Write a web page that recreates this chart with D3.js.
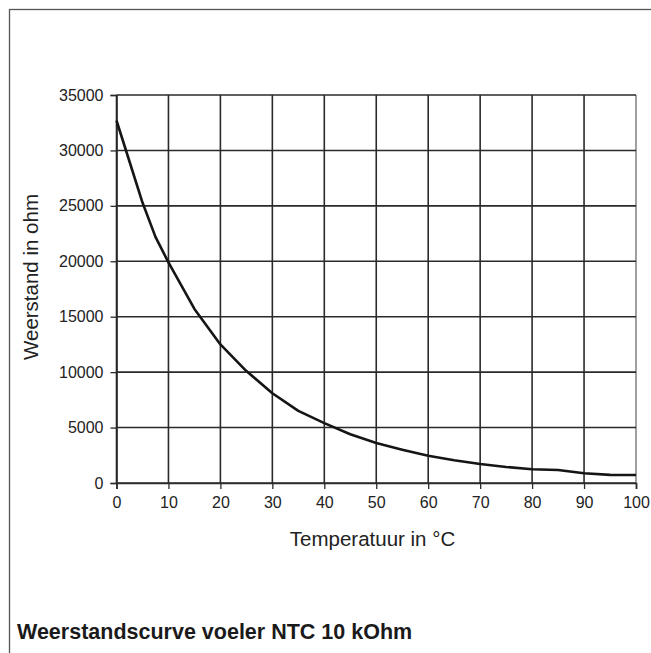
<!DOCTYPE html>
<html><head><meta charset="utf-8">
<script src="https://cdn.jsdelivr.net/npm/d3@7"></script>
<style>html,body{margin:0;padding:0;background:#fff;}svg{display:block;font-family:"Liberation Sans",Arial,Helvetica,sans-serif;}</style>
</head><body>
<script>
const temperatures = [0, 2.5, 5, 7.5, 10, 15, 20, 25, 30, 35, 40, 45, 50, 55, 60, 65, 70, 75, 80, 85, 90, 95, 100];
const resistance = [32700, 29000, 25300, 22200, 19900, 15700, 12500, 10100, 8100, 6500, 5400, 4400, 3600, 3000, 2450, 2050, 1720, 1450, 1240, 1170, 880, 730, 720];
const xTicks = [0, 10, 20, 30, 40, 50, 60, 70, 80, 90, 100];
const yTicks = [0, 5000, 10000, 15000, 20000, 25000, 30000, 35000];
const title = "Weerstandscurve voeler NTC 10 kOhm";
const xTitle = "Temperatuur in °C";
const yTitle = "Weerstand in ohm";

const W = 651, H = 653;
const svg = d3.select("body").append("svg").attr("width", W).attr("height", H);

// outer frame
svg.append("rect").attr("x", 9.5).attr("y", 9.5).attr("width", 700).attr("height", 700)
  .attr("fill", "none").attr("stroke", "#555").attr("stroke-width", 1.3);

const x = d3.scaleLinear().domain([0, 100]).range([116.5, 636]);
const y = d3.scaleLinear().domain([0, 35000]).range([483, 95]);

const g = svg.append("g");
// gridlines
g.selectAll(".vg").data(xTicks).join("line")
  .attr("x1", d => x(d)).attr("x2", d => x(d)).attr("y1", y(0)).attr("y2", y(35000))
  .attr("stroke", d => d === 100 ? "#888" : "#2a2a2a").attr("stroke-width", 1.6);
g.selectAll(".hg").data(yTicks).join("line")
  .attr("x1", x(0)).attr("x2", x(100)).attr("y1", d => y(d)).attr("y2", d => y(d))
  .attr("stroke", "#2a2a2a").attr("stroke-width", 1.6);

// axes
const xAxis = d3.axisBottom(x).tickValues(xTicks).tickSize(6).tickPadding(8).tickFormat(d3.format("d"));
const yAxis = d3.axisLeft(y).tickValues(yTicks).tickSize(6).tickPadding(7).tickFormat(d3.format("d"));
const gx = svg.append("g").attr("transform", `translate(0,${y(0)})`).call(xAxis);
const gy = svg.append("g").attr("transform", `translate(${x(0)},0)`).call(yAxis);
[gx, gy].forEach(a => {
  a.select(".domain").attr("stroke", "#2a2a2a").attr("stroke-width", 1.6);
  a.selectAll(".tick line").attr("stroke", "#2a2a2a").attr("stroke-width", 1.3);
  a.selectAll(".tick text").attr("font-size", 16).attr("fill", "#222")
    .attr("font-family", "'Liberation Sans', Arial, sans-serif");
});

// curve
const pts = temperatures.map((t, i) => [t, resistance[i]]);
svg.append("path").datum(pts)
  .attr("fill", "none").attr("stroke", "#151515").attr("stroke-width", 2.6)
  .attr("stroke-linejoin", "round")
  .attr("d", d3.line().x(d => x(d[0])).y(d => y(d[1])).curve(d3.curveLinear));

// axis titles
svg.append("text").attr("x", 372.5).attr("y", 546).attr("text-anchor", "middle")
  .attr("font-size", 20.5).attr("fill", "#222").text(xTitle);
svg.append("text").attr("transform", "translate(37.5,277) rotate(-90)").attr("text-anchor", "middle")
  .attr("font-size", 20.5).attr("fill", "#222").text(yTitle);

// title
svg.append("text").attr("x", 17).attr("y", 639).attr("font-size", 21.5).attr("font-weight", "bold")
  .attr("fill", "#1a1a1a").text(title);
</script>
</body></html>
